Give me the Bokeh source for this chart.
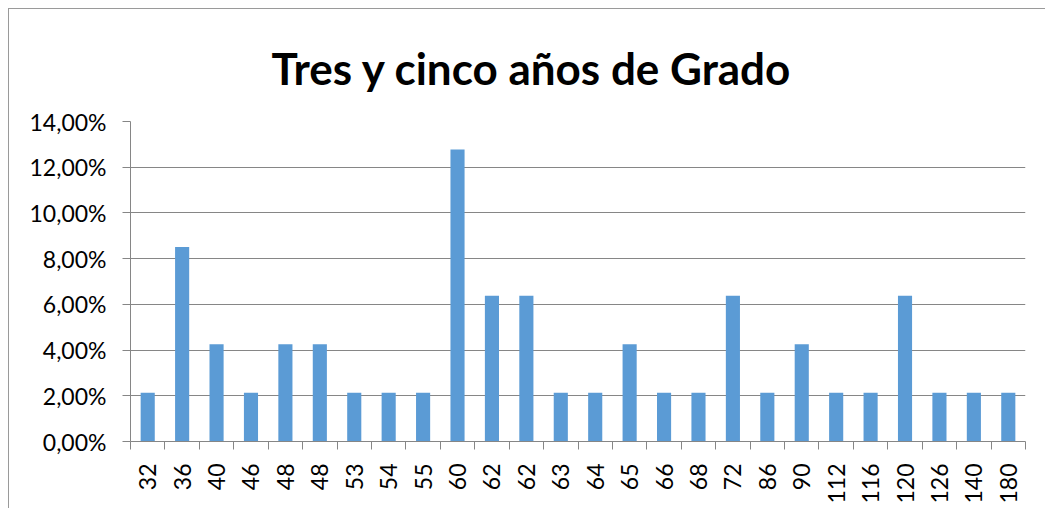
import math
from bokeh.plotting import figure
from bokeh.models import ColumnDataSource, FixedTicker, Range1d, CustomJSTickFormatter, Title
from bokeh.embed import file_html
from bokeh.resources import INLINE

categories = ["32", "36", "40", "46", "48", "48", "53", "54", "55", "60", "62", "62", "63",
              "64", "65", "66", "68", "72", "86", "90", "112", "116", "120", "126", "140", "180"]
values = [0.0213, 0.0851, 0.0426, 0.0213, 0.0426, 0.0426, 0.0213, 0.0213, 0.0213, 0.1277,
          0.0638, 0.0638, 0.0213, 0.0213, 0.0426, 0.0213, 0.0213, 0.0638, 0.0213, 0.0426,
          0.0213, 0.0213, 0.0638, 0.0213, 0.0213, 0.0213]
y_ticks = [0.0, 0.02, 0.04, 0.06, 0.08, 0.10, 0.12, 0.14]
title_text = "Tres y cinco años de Grado"

positions = list(range(len(categories)))
source = ColumnDataSource(dict(x=positions, top=values, label=categories))

FONT = "Lato"
GRAY = "#868686"

p = figure(width=1037, height=500, output_backend="svg", toolbar_location=None,
           x_range=Range1d(-0.5, len(categories) - 0.5), y_range=Range1d(0, 0.14),
           min_border_left=121, min_border_right=21, min_border_top=112, min_border_bottom=68)
p.styles = {"margin-left": "8px", "margin-top": "8px",
            "border-left": "1px solid #9a9a9a", "border-top": "1px solid #9a9a9a"}

p.vbar(x="x", top="top", width=0.41, bottom=0, source=source,
       fill_color="#5B9BD5", line_color=None)

t = Title(text=title_text, align="left", offset=141, text_font=FONT, text_font_size="44px",
          text_font_style="bold", text_color="black", standoff=56)
p.add_layout(t, "above")

p.outline_line_color = None
p.background_fill_color = "white"
p.border_fill_color = "white"

# x axis
xa = p.xaxis[0]
xa.ticker = FixedTicker(ticks=positions, minor_ticks=[i - 0.5 for i in range(len(categories) + 1)])
xa.major_label_overrides = {i: c for i, c in zip(positions, categories)}
xa.major_label_orientation = math.pi / 2
xa.major_tick_out = 0
xa.major_tick_in = 0
xa.minor_tick_out = 8
xa.minor_tick_in = 0
xa.minor_tick_line_color = GRAY
xa.axis_line_color = GRAY
xa.major_label_text_font = FONT
xa.major_label_text_font_size = "23px"
xa.major_label_text_color = "black"
xa.major_label_standoff = 14

# y axis
ya = p.yaxis[0]
ya.ticker = FixedTicker(ticks=y_ticks)
ya.formatter = CustomJSTickFormatter(code="return (tick*100).toFixed(2).replace('.', ',') + '%';")
ya.major_tick_out = 8
ya.major_tick_in = 0
ya.minor_tick_line_color = None
ya.major_tick_line_color = GRAY
ya.axis_line_color = GRAY
ya.major_label_text_font = FONT
ya.major_label_text_font_size = "23px"
ya.major_label_text_color = "black"
ya.major_label_standoff = 16

p.xgrid.grid_line_color = None
p.ygrid.grid_line_color = GRAY
p.ygrid.grid_line_width = 1
p.ygrid.ticker = FixedTicker(ticks=y_ticks)

open("out.html", "w").write(file_html(p, INLINE))
